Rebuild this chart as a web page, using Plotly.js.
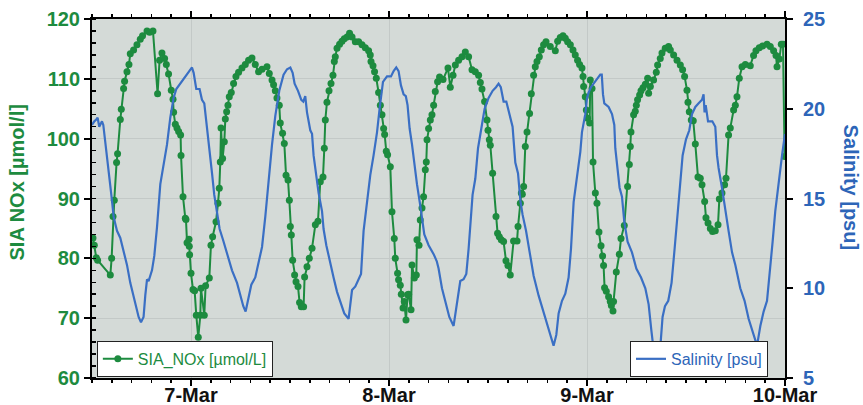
<!DOCTYPE html>
<html>
<head>
<meta charset="utf-8">
<script src="https://cdn.plot.ly/plotly-3.0.1.min.js"></script>
<style>html,body{margin:0;padding:0;background:#fff;}#chart{width:863px;height:405px;}</style>
</head>
<body>
<div id="chart"></div>
<script>
// Time in hours since 6-Mar 12:00
const noxHours = [0.12,0.28,0.52,0.68,2.22,2.38,2.55,2.70,2.98,3.10,
3.43,3.55,3.83,3.95,4.24,4.48,4.64,5.04,5.45,5.85,
6.13,6.67,6.98,7.39,7.95,8.19,8.48,8.80,9.01,9.28,
9.61,9.82,9.89,10.10,10.30,10.50,10.74,10.79,11.03,11.31,
11.39,11.52,11.76,11.79,11.83,12.00,12.24,12.44,12.64,12.88,
13.13,13.21,13.61,13.77,14.22,14.42,14.62,15.03,15.27,15.43,
15.55,15.64,15.83,16.04,16.16,16.32,16.48,16.64,16.88,17.16,
17.45,17.77,18.18,18.58,18.98,19.39,19.79,20.19,20.61,21.21,
21.49,21.82,22.01,22.22,22.42,22.70,22.82,23.10,23.31,23.52,
23.76,23.92,24.04,24.16,24.32,24.56,24.73,24.97,25.16,25.37,
25.65,25.77,26.06,26.34,26.67,27.07,27.39,27.67,28.00,28.16,
28.28,28.48,28.73,28.97,29.21,29.37,29.49,29.70,30.01,30.30,
30.58,30.91,31.22,31.52,31.92,32.32,32.73,33.13,33.53,33.73,
33.82,34.06,34.25,34.46,34.74,34.95,35.15,35.35,35.47,35.67,
35.83,36.16,36.36,36.64,36.76,37.04,37.16,37.37,37.49,37.70,
37.85,38.06,38.25,38.38,38.67,38.79,39.07,39.31,39.39,39.64,
39.79,40.00,40.19,40.40,40.52,40.61,40.80,41.01,41.21,41.41,
41.61,41.89,42.13,42.55,43.15,43.43,43.76,44.04,44.44,44.85,
45.25,45.65,46.06,46.46,46.86,47.07,47.27,47.59,47.88,48.00,
48.16,48.28,48.56,48.97,49.16,49.37,49.61,49.89,50.18,50.42,
50.70,51.10,51.52,51.64,51.92,52.04,52.16,52.32,52.52,52.73,
53.04,53.25,53.53,53.73,53.94,54.22,54.46,54.74,55.03,55.55,
56.16,56.44,56.76,57.09,57.37,57.65,57.98,58.30,58.58,58.86,
59.10,59.39,59.52,59.59,59.79,59.92,60.07,60.32,60.40,60.61,
60.73,61.01,61.21,61.45,61.70,61.89,62.01,62.13,62.34,62.62,
62.82,62.95,63.15,63.22,63.55,63.92,64.12,64.52,64.92,65.13,
65.25,65.33,65.65,65.85,65.98,66.13,66.38,66.55,66.79,67.07,
67.35,67.47,67.68,68.07,68.40,68.56,68.88,69.09,69.48,69.89,
70.10,70.50,70.91,71.31,71.59,71.83,72.12,72.24,72.40,72.64,
72.88,73.13,73.45,73.73,73.94,74.26,74.42,74.67,74.95,75.22,
75.55,75.88,76.04,76.36,76.68,76.85,77.16,77.37,77.77,77.98,
78.18,78.46,78.79,79.19,79.79,80.19,80.48,80.88,81.28,81.82,
82.22,82.62,82.91,83.03,83.31,83.55,83.76,83.95];

const noxValues = [83.4,82.2,80.1,79.7,77.2,80.0,87.0,89.7,96.0,97.5,
103.2,104.9,108.4,109.6,111.2,112.4,114.2,114.8,115.7,116.6,
117.2,118.0,117.8,118.0,107.5,113.1,114.3,113.4,112.4,110.8,
108.1,106.6,104.4,102.4,101.8,101.2,100.6,97.2,90.3,86.7,
86.5,82.6,83.2,82.0,80.6,77.5,74.8,74.6,70.5,66.8,
70.5,75.0,70.5,75.4,76.7,82.2,83.6,86.1,89.2,91.7,
96.1,101.8,96.7,99.5,103.3,104.5,105.6,107.0,107.7,109.2,
110.4,111.1,111.8,112.4,113.1,113.5,112.4,111.2,111.6,112.0,
110.9,109.8,109.0,108.0,106.8,105.6,102.6,100.9,99.2,93.9,
93.1,89.7,85.3,83.9,79.7,77.2,76.1,75.3,72.6,71.9,
71.9,76.9,78.6,80.0,81.7,85.6,86.2,92.8,93.6,98.4,
103.1,106.1,108.0,109.2,110.6,112.9,113.7,115.1,115.8,116.3,
116.7,117.0,117.6,117.0,116.2,116.2,115.7,115.2,114.7,114.0,
112.9,112.2,111.2,110.1,107.7,105.6,104.0,101.7,100.7,97.9,
97.3,95.3,87.8,83.3,80.0,77.5,76.4,75.5,74.0,71.7,
72.8,69.7,73.9,74.0,71.4,78.9,76.7,77.2,83.1,82.2,
86.4,88.4,90.3,94.8,96.1,99.8,101.7,103.1,104.0,105.6,
107.9,109.5,110.3,109.9,111.8,108.6,110.6,112.3,113.1,113.7,
114.5,113.7,111.5,111.2,110.6,109.4,108.3,106.2,103.1,101.4,
99.8,98.9,94.2,87.0,84.2,83.6,83.1,82.8,79.6,78.8,
77.2,82.9,82.9,85.3,89.2,90.9,90.7,92.0,98.7,101.1,
104.2,107.5,110.6,112.0,112.9,113.7,114.8,115.7,116.2,115.4,
114.7,116.3,116.9,117.2,116.8,116.2,115.7,114.8,114.0,113.1,
112.4,111.8,110.4,108.7,107.0,104.8,103.4,102.6,109.8,108.4,
96.1,90.9,89.2,84.4,82.1,80.4,78.8,75.1,74.5,73.6,
72.8,72.1,71.2,72.8,77.7,80.7,83.3,85.5,92.0,95.7,
98.7,101.1,104.0,104.6,105.6,106.5,107.3,108.0,108.5,109.1,
110.1,107.6,108.7,109.8,111.1,112.3,113.4,114.3,115.1,115.4,
114.8,114.0,113.1,112.3,111.5,110.4,108.1,106.1,104.5,103.1,
103.0,99.1,93.6,93.4,92.3,89.5,86.8,85.9,85.0,84.5,
84.6,85.6,89.9,90.9,92.3,93.4,100.6,101.8,104.8,105.6,
107.0,110.1,112.0,112.4,112.2,113.9,114.7,115.2,115.5,115.8,
115.4,114.7,113.9,112.0,113.3,115.8,115.8,97.0];

const salHours = [0.00,0.12,0.28,0.52,0.68,0.88,1.21,1.37,1.49,1.65,
1.89,2.22,2.42,2.62,2.82,3.03,3.43,3.83,4.24,4.64,
5.04,5.45,5.65,5.94,6.25,6.46,6.67,6.86,7.27,7.55,
7.88,8.28,8.68,9.09,9.49,9.89,10.22,10.70,11.31,11.71,
12.12,12.32,12.64,13.04,13.33,13.61,13.94,14.25,14.55,14.82,
15.15,15.47,15.88,16.36,16.97,17.58,18.06,18.34,18.62,18.98,
19.31,19.79,20.16,20.61,21.01,21.41,21.82,22.22,22.70,23.22,
23.64,24.04,24.32,24.56,24.97,25.37,25.61,25.85,26.06,26.46,
26.67,26.86,27.07,27.47,27.88,28.07,28.40,28.80,29.28,29.70,
30.18,30.58,31.10,31.52,31.92,32.32,32.61,32.92,33.33,33.73,
34.13,34.55,34.86,35.27,35.76,36.24,36.56,36.88,37.16,37.45,
37.77,38.04,38.25,38.50,38.79,39.07,39.39,39.79,40.28,40.80,
41.41,41.79,42.01,42.42,42.82,43.31,43.83,44.24,44.64,45.04,
45.37,45.65,45.85,46.13,46.46,46.79,47.19,47.59,48.07,48.56,
48.97,49.28,49.55,49.89,50.22,50.58,50.98,51.31,51.64,51.92,
52.19,52.61,53.01,53.53,54.13,54.74,55.35,55.55,55.95,56.28,
56.56,56.97,57.37,57.77,58.06,58.38,58.79,59.19,59.39,59.79,
60.00,60.19,60.48,60.80,61.21,61.61,61.79,61.94,62.10,62.62,
63.03,63.31,63.43,63.71,63.95,64.24,64.52,64.92,65.45,65.98,
66.55,67.07,67.47,67.79,68.07,68.40,68.85,69.16,69.45,69.85,
70.25,70.62,71.03,71.31,71.59,72.00,72.40,72.73,73.13,73.53,
73.94,74.13,74.25,74.39,74.67,75.19,75.55,75.76,75.95,76.36,
76.76,77.16,77.58,77.98,78.58,79.10,79.59,80.07,80.61,81.01,
81.41,81.82,82.22,82.50,82.82,83.22,83.64,84.00];

const salValues = [19.1,19.2,19.3,19.4,19.5,19.0,19.3,19.1,18.6,17.7,
17.0,15.7,14.9,14.0,13.6,13.2,12.8,12.0,11.3,10.3,
9.5,8.8,8.4,8.1,8.4,9.6,10.5,10.4,11.0,11.8,
13.4,15.8,16.8,18.0,19.5,20.6,21.1,21.4,21.8,22.0,
22.3,22.0,21.1,21.1,20.5,20.3,19.0,17.9,16.4,15.2,
14.2,13.3,12.7,11.9,11.0,10.3,9.5,9.0,8.7,9.6,
10.2,10.6,11.3,12.3,14.0,16.2,18.0,19.6,21.0,21.9,
22.2,22.3,22.0,21.4,21.0,20.5,20.4,20.7,19.8,18.8,
18.6,17.4,16.7,15.3,14.3,13.3,12.4,11.5,10.6,9.8,
9.2,8.6,8.3,9.9,10.1,10.5,10.8,13.2,14.8,16.3,
17.4,18.7,20.0,21.5,21.8,21.8,22.1,22.3,22.1,21.3,
20.8,20.7,20.2,18.9,18.0,16.9,15.8,14.6,13.0,12.4,
11.9,11.5,11.1,10.0,9.3,8.4,7.9,9.1,10.4,10.5,
10.8,12.2,13.7,15.2,16.1,17.8,18.9,20.0,20.6,21.0,
21.2,21.4,21.2,20.4,20.4,19.7,19.0,17.0,16.4,14.9,
14.1,13.2,12.2,10.7,9.6,8.7,7.8,7.4,6.8,7.4,
8.6,9.3,9.7,10.6,12.2,14.8,16.1,17.6,18.7,19.7,
20.6,20.9,21.2,21.4,21.6,21.9,21.9,20.8,20.3,20.1,
19.7,19.1,17.8,16.7,15.6,15.1,13.7,12.6,12.0,11.1,
10.6,10.0,9.1,7.7,6.6,6.0,6.5,8.4,9.0,9.3,
10.3,12.2,14.5,15.6,17.4,18.3,18.8,19.7,20.1,20.3,
20.5,20.8,19.8,20.2,19.3,19.3,19.0,17.4,16.7,15.6,
14.3,13.2,12.0,11.3,10.0,9.3,8.3,7.6,6.8,7.9,
8.7,9.3,11.1,12.6,14.3,15.9,17.4,18.6];

const xTickFormat = '%-d-%b';
const noxName = 'SIA_NOx [µmol/L]';
const salName = 'Salinity [psu]';
const leftTitle = 'SIA NOx [µmol/l]';
const rightTitle = 'Salinity [psu]';

const startMs = Date.UTC(2024, 2, 6, 12, 0, 0);
function pad(n){return (n<10?'0':'')+n;}
function toDate(h){
  const d = new Date(startMs + Math.round(h*3600000));
  return d.getUTCFullYear()+'-'+pad(d.getUTCMonth()+1)+'-'+pad(d.getUTCDate())+' '+
    pad(d.getUTCHours())+':'+pad(d.getUTCMinutes())+':'+pad(d.getUTCSeconds());
}

const GREEN = '#1d8b3f';
const BLUE_LINE = '#3a6fc4';
const BLUE_TXT = '#2d65b8';
const FONT = 'Liberation Sans, Arial, sans-serif';

const traces = [
  {
    x: salHours.map(toDate), y: salValues, yaxis: 'y2',
    type: 'scatter', mode: 'lines', name: salName, legend: 'legend2',
    line: {color: BLUE_LINE, width: 2.2}
  },
  {
    x: noxHours.map(toDate), y: noxValues, yaxis: 'y',
    type: 'scatter', mode: 'lines+markers', name: noxName, legend: 'legend',
    line: {color: GREEN, width: 2},
    marker: {color: GREEN, size: 7}
  }
];

const layout = {
  width: 863, height: 405,
  margin: {l: 92, r: 78, t: 19, b: 27},
  paper_bgcolor: '#ffffff',
  plot_bgcolor: '#d4dad7',
  font: {family: FONT},
  xaxis: {
    type: 'date',
    range: ['2024-03-06 12:00:00', '2024-03-10 00:00:00'],
    tick0: '2024-03-07', dtick: 86400000, tickformat: xTickFormat,
    ticks: 'outside', ticklen: 6, tickwidth: 2, tickcolor: '#000',
    ticklabelstandoff: -8,
    minor: {dtick: 8640000, ticks: 'outside', ticklen: 3, tickwidth: 1.5, tickcolor: '#000', showgrid: false},
    showline: true, linewidth: 2, linecolor: '#000', mirror: 'ticks',
    showgrid: true, gridcolor: '#c3c9c7', gridwidth: 1,
    tickfont: {family: FONT, size: 20, color: '#111', weight: 'bold'},
    zeroline: false
  },
  yaxis: {
    range: [60, 120], dtick: 10, tick0: 60,
    ticks: 'outside', ticklen: 6, tickwidth: 2, tickcolor: '#000',
    minor: {dtick: 2, ticks: 'inside', ticklen: 4, tickwidth: 1.5, tickcolor: '#000', showgrid: false},
    showline: true, linewidth: 2, linecolor: '#000',
    showgrid: true, gridcolor: '#c3c9c7', gridwidth: 1,
    tickfont: {family: FONT, size: 20, color: GREEN, weight: 'bold'},
    zeroline: false
  },
  yaxis2: {
    overlaying: 'y', side: 'right',
    range: [5, 25], dtick: 5, tick0: 5,
    ticks: 'outside', ticklen: 6, tickwidth: 2, tickcolor: '#000',
    ticklabelstandoff: 6,
    showline: true, linewidth: 2, linecolor: '#000',
    showgrid: false, zeroline: false,
    tickfont: {family: FONT, size: 20, color: BLUE_TXT, weight: 'bold'}
  },
  showlegend: true,
  legend: {
    x: 0.007, y: 0.003, xanchor: 'left', yanchor: 'bottom',
    bgcolor: '#ffffff', bordercolor: '#222', borderwidth: 1,
    font: {family: FONT, size: 16, color: GREEN},
    itemwidth: 30, tracegroupgap: 0
  },
  legend2: {
    x: 0.9755, y: 0.003, xanchor: 'right', yanchor: 'bottom',
    bgcolor: '#ffffff', bordercolor: '#222', borderwidth: 1,
    font: {family: FONT, size: 16, color: BLUE_TXT},
    itemwidth: 30, tracegroupgap: 0
  },
  annotations: [
    {text: leftTitle, xref: 'paper', yref: 'paper', x: -0.108, y: 0.545,
     xanchor: 'center', yanchor: 'middle', textangle: -90, showarrow: false,
     font: {family: FONT, size: 20, color: GREEN, weight: 'bold'}},
    {text: rightTitle, xref: 'paper', yref: 'paper', x: 1.095, y: 0.531,
     xanchor: 'center', yanchor: 'middle', textangle: 90, showarrow: false,
     font: {family: FONT, size: 20, color: BLUE_TXT, weight: 'bold'}}
  ]
};

Plotly.newPlot('chart', traces, layout, {displayModeBar: false, staticPlot: true});
</script>
</body>
</html>
